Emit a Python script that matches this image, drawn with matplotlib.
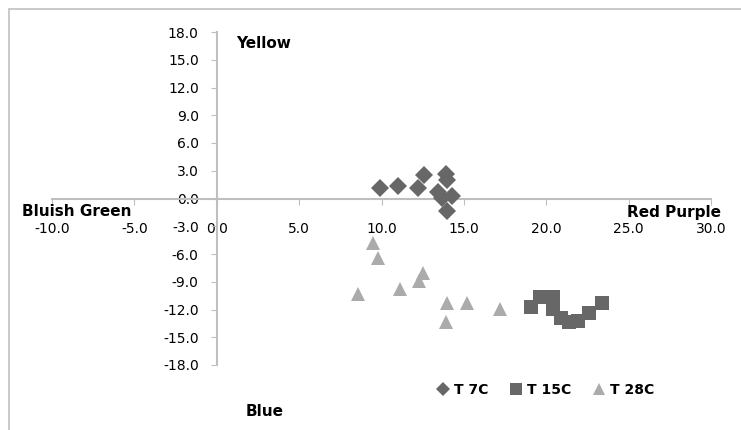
import matplotlib
matplotlib.use('Agg')
import matplotlib.pyplot as plt
import matplotlib.patches as patches
import numpy as np

# hue plot: a* on x (red purple / bluish green), b* on y (yellow / blue)
t7_x = [9.9, 11.0, 12.2, 12.6, 13.4, 13.7, 13.9, 14.0, 14.3, 14.0]
t7_y = [1.1, 1.4, 1.1, 2.5, 0.7, 0.1, 2.7, 2.0, 0.3, -1.3]

t15_x = [19.1, 19.6, 20.4, 20.4, 20.9, 21.4, 21.9, 22.6, 23.4]
t15_y = [-11.7, -10.6, -10.6, -11.9, -12.9, -13.4, -13.2, -12.4, -11.3]

t28_x = [9.5, 9.8, 8.6, 11.1, 12.5, 12.3, 14.0, 15.2, 17.2, 13.9]
t28_y = [-4.8, -6.4, -10.3, -9.8, -8.0, -8.9, -11.3, -11.3, -11.9, -13.3]

x_ticks = np.arange(-10, 31, 5)
y_ticks = np.arange(-18, 19, 3)

axis_grey = '#bfbfbf'
dark = '#676767'
light = '#ababab'
font = dict(family='DejaVu Sans', weight='bold')

fig = plt.figure(figsize=(7.41, 4.30), dpi=100)
ax = fig.add_axes([52 / 741, 1 - 365 / 430, 659 / 741, 333 / 430])

ax.plot(t7_x, t7_y, linestyle='none', marker='D', ms=9.5, color=dark,
        markeredgewidth=0, label='T 7C', zorder=3)
ax.plot(t15_x, t15_y, linestyle='none', marker='s', ms=10, color=dark,
        markeredgewidth=0, label='T 15C', zorder=3)
ax.plot(t28_x, t28_y, linestyle='none', marker='^', ms=10.5, color=light,
        markeredgewidth=0, label='T 28C', zorder=3)

ax.set_xlim(-10, 30)
ax.set_ylim(-18, 18)
ax.set_xticks(x_ticks)
ax.set_yticks(y_ticks)
ax.set_xticklabels(['%.1f' % v for v in x_ticks], fontsize=10.5, **font)
ax.set_yticklabels(['%.1f' % v for v in y_ticks], fontsize=10.5, **font)

for side in ['top', 'right']:
    ax.spines[side].set_visible(False)
ax.spines['left'].set_position(('data', 0))
ax.spines['bottom'].set_position(('data', 0))
for side in ['left', 'bottom']:
    ax.spines[side].set_color(axis_grey)
    ax.spines[side].set_linewidth(1.5)
ax.tick_params(axis='x', direction='out', length=4, color=axis_grey, pad=13)
ax.tick_params(axis='y', direction='out', length=4, color=axis_grey, pad=9)
ax.patch.set_alpha(0)

# quadrant names
fig.text(236 / 741, 1 - 44 / 430, 'Yellow', fontsize=11, va='center', **font)
fig.text(22 / 741, 1 - 211 / 430, 'Bluish Green', fontsize=11, va='center', **font)
fig.text(627 / 741, 1 - 212 / 430, 'Red Purple', fontsize=11, va='center', **font)
fig.text(246 / 741, 1 - 412 / 430, 'Blue', fontsize=11, va='center', **font)

leg = fig.legend(loc='center', bbox_to_anchor=(546 / 741, 1 - 390 / 430), ncol=3,
                 frameon=False, handlelength=0.8, handletextpad=0.4,
                 columnspacing=1.6, markerscale=0.8,
                 prop=dict(family='DejaVu Sans', weight='bold', size=10))

# chart area border
fig.patches.append(patches.Rectangle((9 / 741, -0.1), 1.2, 1.1 - 9 / 430,
                                     transform=fig.transFigure, fill=False,
                                     edgecolor='#c0c0c0', linewidth=1.2))

fig.savefig('out.png', dpi=100)
